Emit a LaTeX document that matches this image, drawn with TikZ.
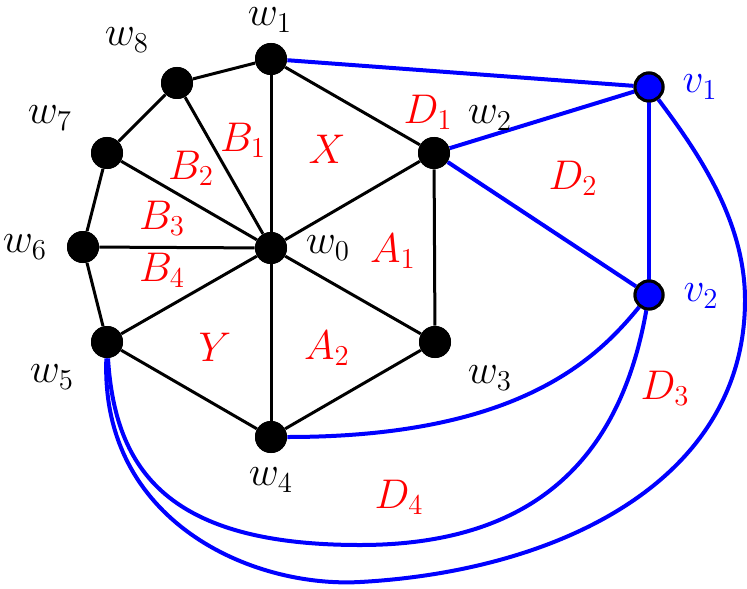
\documentclass[tikz,border=0pt]{standalone}
\begin{document}
\begin{tikzpicture}[x=0.5pt,y=-0.5pt,
  bv/.style={circle,fill=black,inner sep=0pt,minimum size=16pt},
  vv/.style={circle,fill=blue,draw=black,line width=1.5pt,inner sep=0pt,minimum size=14pt},
  bedge/.style={line width=1.5pt,black},
  vedge/.style={line width=2pt,blue},
  lbl/.style={font=\fontsize{20.5}{24}\selectfont,inner sep=0pt},
  rl/.style={lbl,text=red},
  bl/.style={lbl,text=blue}]
\useasboundingbox (0,0) rectangle (747,588);
% vertices
\node[bv] (w0) at (271,248) {};
\node[bv] (w1) at (271,59) {};
\node[bv] (w2) at (434,153) {};
\node[bv] (w3) at (435,342) {};
\node[bv] (w4) at (271,437) {};
\node[bv] (w5) at (107,342) {};
\node[bv] (w6) at (83,247) {};
\node[bv] (w7) at (107,153) {};
\node[bv] (w8) at (177,83) {};
\node[vv] (v1) at (649,87) {};
\node[vv] (v2) at (649,295) {};
\coordinate (b1) at (360,582);
\coordinate (b2) at (360,545);
\coordinate (b3) at (745,300);
% black edges
\foreach \i in {1,...,8} \draw[bedge] (w0) -- (w\i);
\draw[bedge] (w1) -- (w2) -- (w3) -- (w4) -- (w5) -- (w6) -- (w7) -- (w8) -- (w1);
% blue edges
\draw[vedge] (w1) -- (v1);
\draw[vedge] (w2) -- (v1);
\draw[vedge] (w2) -- (v2);
\draw[vedge] (v1) -- (v2);
\draw[vedge] (w4) .. controls +(250,0) and +(-51,62) .. (v2);
\draw[vedge] (w5) .. controls +(8,130) and +(-190,0) .. (b2)
  .. controls +(190,0) and +(-26,147) .. (v2);
\draw[vedge] (w5) .. controls +(-7,179) and +(-109,6) .. (b1)
  .. controls +(200,-11) and +(0,180) .. (b3)
  .. controls +(0,-80) and +(48,64) .. (v1);
% redraw vertices on top
\node[bv] at (w0) {};
\foreach \i in {1,...,8} \node[bv] at (w\i) {};
\node[vv] at (v1) {};
\node[vv] at (v2) {};
% labels
\node[lbl] (l1) at (270,20) {$w_1$};
\node[lbl] (l2) at (490,118) {$w_2$};
\node[lbl] (l3) at (490,378) {$w_3$};
\node[lbl] (l4) at (271,480) {$w_4$};
\node[lbl] (l5) at (52,377) {$w_5$};
\node[lbl] (l6) at (25,247) {$w_6$};
\node[lbl] (l7) at (50,118) {$w_7$};
\node[lbl] (l8) at (127,40) {$w_8$};
\node[lbl] (l0) at (328,248) {$w_0$};
\node[bl] (lv1) at (700,87) {$v_1$};
\node[bl] (lv2) at (701,296) {$v_2$};
% region labels
\node[rl] (rD1) at (428,112) {$D_1$};
\node[rl] (rX) at (327,149) {$X$};
\node[rl] (rB1) at (243,140) {$B_1$};
\node[rl] (rB2) at (191,168) {$B_2$};
\node[rl] (rB3) at (162,218) {$B_3$};
\node[rl] (rB4) at (162,270) {$B_4$};
\node[rl] (rA1) at (393,251) {$A_1$};
\node[rl] (rY) at (215,347) {$Y$};
\node[rl] (rA2) at (327,348) {$A_2$};
\node[rl] (rD2) at (573,178) {$D_2$};
\node[rl] (rD3) at (665,388) {$D_3$};
\node[rl] (rD4) at (399,497) {$D_4$};
\end{tikzpicture}
\end{document}
